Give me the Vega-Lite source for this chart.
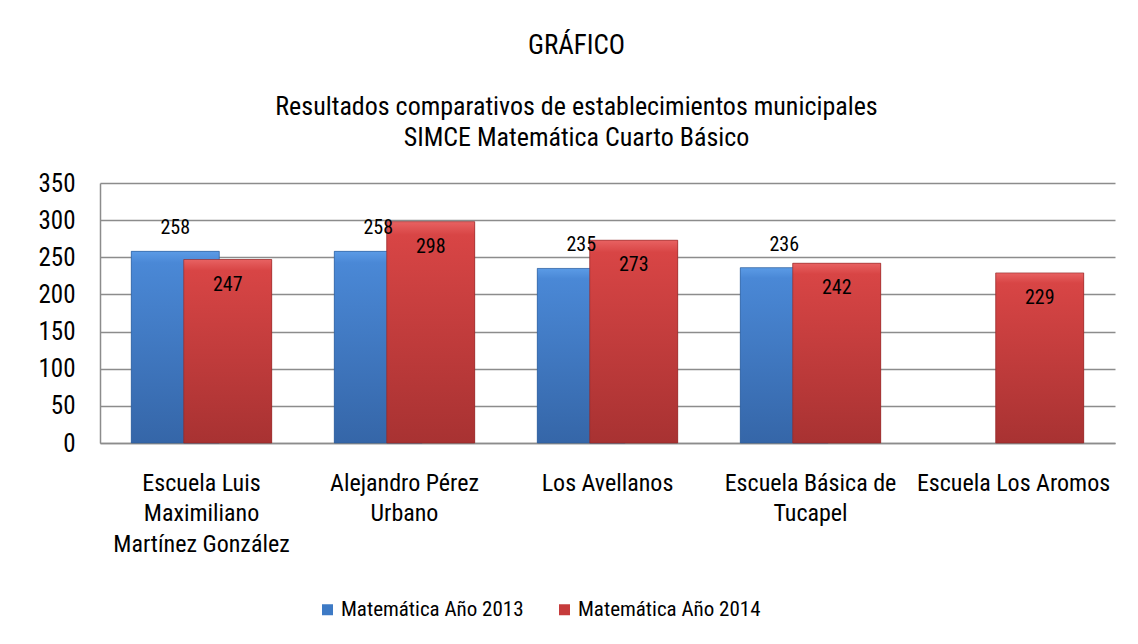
{
  "$schema": "https://vega.github.io/schema/vega-lite/v6.json",
  "width": 1015,
  "height": 260,
  "autosize": {"type": "pad"},
  "padding": {"left": 37, "top": 32, "right": 25, "bottom": 10},
  "background": "white",
  "title": {
    "text": "GRÁFICO",
    "subtitle": ["Resultados comparativos de establecimientos municipales", "SIMCE Matemática Cuarto Básico"],
    "anchor": "middle",
    "frame": "bounds",
    "font": "Liberation Sans Narrow, Arial Narrow, Roboto Condensed, DejaVu Sans Condensed, sans-serif",
    "fontSize": 27,
    "fontWeight": "normal",
    "color": "#000000",
    "subtitleFont": "Liberation Sans Narrow, Arial Narrow, Roboto Condensed, DejaVu Sans Condensed, sans-serif",
    "subtitleFontSize": 26,
    "subtitleColor": "#000000",
    "subtitlePadding": 34,
    "subtitleLineHeight": 31,
    "offset": 19
  },
  "data": {
    "values": [
      {"escuela": "Escuela Luis Maximiliano Martínez González", "serie": "Matemática Año 2013", "valor": 258},
      {"escuela": "Alejandro Pérez Urbano", "serie": "Matemática Año 2013", "valor": 258},
      {"escuela": "Los Avellanos", "serie": "Matemática Año 2013", "valor": 235},
      {"escuela": "Escuela Básica de Tucapel", "serie": "Matemática Año 2013", "valor": 236},
      {"escuela": "Escuela Luis Maximiliano Martínez González", "serie": "Matemática Año 2014", "valor": 247},
      {"escuela": "Alejandro Pérez Urbano", "serie": "Matemática Año 2014", "valor": 298},
      {"escuela": "Los Avellanos", "serie": "Matemática Año 2014", "valor": 273},
      {"escuela": "Escuela Básica de Tucapel", "serie": "Matemática Año 2014", "valor": 242},
      {"escuela": "Escuela Los Aromos", "serie": "Matemática Año 2014", "valor": 229}
    ]
  },
  "encoding": {
    "x": {
      "field": "escuela",
      "type": "nominal",
      "sort": ["Escuela Luis Maximiliano Martínez González", "Alejandro Pérez Urbano", "Los Avellanos", "Escuela Básica de Tucapel", "Escuela Los Aromos"],
      "scale": {"paddingInner": 0, "paddingOuter": 0},
      "axis": {
        "title": null,
        "labelAngle": 0,
        "labelBaseline": "top",
        "labelLineHeight": 30.5,
        "labelPadding": 28,
        "labelFont": "Liberation Sans Narrow, Arial Narrow, Roboto Condensed, DejaVu Sans Condensed, sans-serif",
        "labelFontSize": 24,
        "labelColor": "#000000",
        "labelLimit": 0,
        "ticks": false,
        "domainColor": "#8C8C8C",
        "domainWidth": 1.5,
        "labelExpr": "datum.value == 'Escuela Luis Maximiliano Martínez González' ? ['Escuela Luis', 'Maximiliano', 'Martínez González'] : datum.value == 'Alejandro Pérez Urbano' ? ['Alejandro Pérez', 'Urbano'] : datum.value == 'Escuela Básica de Tucapel' ? ['Escuela Básica de', 'Tucapel'] : datum.value"
      }
    },
    "xOffset": {
      "field": "serie",
      "type": "nominal",
      "sort": ["Matemática Año 2013", "Matemática Año 2014"],
      "scale": {"paddingInner": 0, "paddingOuter": 0.935}
    },
    "y": {
      "field": "valor",
      "type": "quantitative",
      "stack": null,
      "scale": {"domain": [0, 350], "nice": false},
      "axis": {
        "title": null,
        "values": [0, 50, 100, 150, 200, 250, 300, 350],
        "grid": true,
        "gridColor": "#8C8C8C",
        "gridWidth": 1.5,
        "ticks": false,
        "domain": true,
        "domainColor": "#8C8C8C",
        "domainWidth": 1.5,
        "labelPadding": 25,
        "labelFont": "Liberation Sans Narrow, Arial Narrow, Roboto Condensed, DejaVu Sans Condensed, sans-serif",
        "labelFontSize": 25,
        "labelColor": "#000000"
      }
    }
  },
  "layer": [
    {
      "mark": {"type": "bar", "width": 88},
      "encoding": {
        "color": {
          "field": "serie",
          "type": "nominal",
          "sort": ["Matemática Año 2013", "Matemática Año 2014"],
          "scale": {"domain": ["Matemática Año 2013", "Matemática Año 2014"], "range": ["#3D7AC5", "#C63B3B"]},
          "legend": {
            "title": null,
            "orient": "none",
            "direction": "horizontal",
            "legendX": 217,
            "legendY": 416,
            "symbolType": "square",
            "symbolSize": 121,
            "symbolStrokeWidth": 0,
            "labelFont": "Liberation Sans Narrow, Arial Narrow, Roboto Condensed, DejaVu Sans Condensed, sans-serif",
            "labelFontSize": 21,
            "labelColor": "#000000",
            "labelOffset": 3,
            "columnPadding": 30,
            "labelLimit": 0
          }
        }
      }
    },
    {
      "transform": [{"filter": "datum.serie == 'Matemática Año 2013'"}],
      "mark": {
        "type": "bar",
        "width": 88,
        "stroke": "#2C5A94",
        "strokeWidth": 1,
        "strokeOpacity": 0.6,
        "fill": {"gradient": "linear", "x1": 0, "y1": 0, "x2": 0, "y2": 1, "stops": [{"offset": 0, "color": "#5B9BE6"}, {"offset": 0.06, "color": "#4A88D6"}, {"offset": 1, "color": "#3566A8"}]}
      }
    },
    {
      "transform": [{"filter": "datum.serie == 'Matemática Año 2014'"}],
      "mark": {
        "type": "bar",
        "width": 88,
        "stroke": "#8E2626",
        "strokeWidth": 1,
        "strokeOpacity": 0.6,
        "fill": {"gradient": "linear", "x1": 0, "y1": 0, "x2": 0, "y2": 1, "stops": [{"offset": 0, "color": "#E86262"}, {"offset": 0.06, "color": "#D84545"}, {"offset": 1, "color": "#A83232"}]}
      }
    },
    {
      "transform": [{"filter": "datum.serie == 'Matemática Año 2013'"}],
      "mark": {"type": "text", "dy": -23, "baseline": "middle", "font": "Liberation Sans Narrow, Arial Narrow, Roboto Condensed, DejaVu Sans Condensed, sans-serif", "fontSize": 20, "color": "#000000"},
      "encoding": {"text": {"field": "valor", "type": "quantitative"}}
    },
    {
      "transform": [{"filter": "datum.serie == 'Matemática Año 2014'"}],
      "mark": {"type": "text", "dy": 25, "baseline": "middle", "font": "Liberation Sans Narrow, Arial Narrow, Roboto Condensed, DejaVu Sans Condensed, sans-serif", "fontSize": 20, "color": "#000000"},
      "encoding": {"text": {"field": "valor", "type": "quantitative"}}
    }
  ],
  "config": {
    "view": {"stroke": null}
  }
}
